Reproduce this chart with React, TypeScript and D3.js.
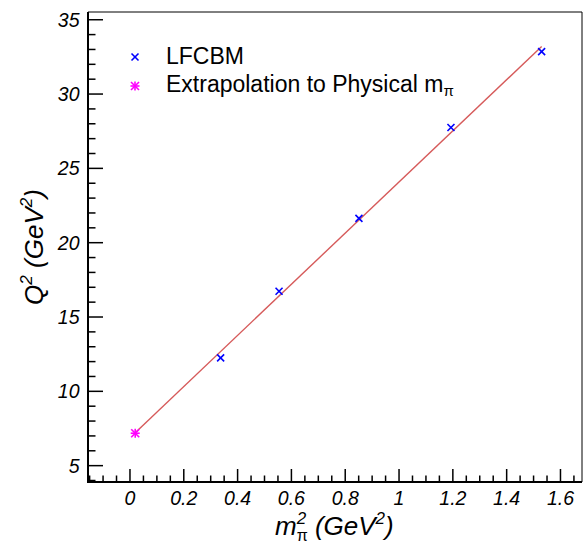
import React from "react";
import * as d3 from "d3";

const mpi2 = [0.337, 0.554, 0.851, 1.193, 1.53];
const q2 = [12.25, 16.73, 21.64, 27.75, 32.85];
const physMpi2 = [0.0195];
const physQ2 = [7.18];
const fitSlope = 17.2;
const fitIntercept = 6.885;
const fitRange = [0.0195, 1.53];
const xTicks = [0, 0.2, 0.4, 0.6, 0.8, 1, 1.2, 1.4, 1.6];
const yTicks = [5, 10, 15, 20, 25, 30, 35];
const legendLabels = ["LFCBM", "Extrapolation to Physical m"];

const W = 588, H = 546;
const L = 88, R = 582, T = 12, B = 482;
const FONT = "'Liberation Sans', Arial, Helvetica, sans-serif";

export default function App() {
  const x = d3.scaleLinear().domain([-0.156, 1.68]).range([L, R]);
  const y = d3.scaleLinear().domain([3.9, 35.52]).range([B, T]);

  const xMinor = d3.range(-0.15, 1.6801, 0.05).filter((v) => x(v) >= L && x(v) <= R);
  const yMinor = d3.range(4, 35.6, 1).filter((v) => y(v) >= T && y(v) <= B);

  const line = d3
    .line<number>()
    .x((d) => x(d))
    .y((d) => y(fitIntercept + fitSlope * d));

  const xMark = (cx: number, cy: number, s: number, col: string, key: string) => (
    <g key={key} stroke={col} strokeWidth={1.6}>
      <line x1={cx - s} y1={cy - s} x2={cx + s} y2={cy + s} />
      <line x1={cx - s} y1={cy + s} x2={cx + s} y2={cy - s} />
    </g>
  );
  const star = (cx: number, cy: number, s: number, col: string, key: string) => (
    <g key={key} stroke={col} strokeWidth={1.6}>
      <line x1={cx - s} y1={cy - s} x2={cx + s} y2={cy + s} />
      <line x1={cx - s} y1={cy + s} x2={cx + s} y2={cy - s} />
      <line x1={cx - s - 0.5} y1={cy} x2={cx + s + 0.5} y2={cy} />
      <line x1={cx} y1={cy - s - 0.5} x2={cx} y2={cy + s + 0.5} />
    </g>
  );

  return (
    <svg width={W} height={H} style={{ position: "absolute", left: 0, top: 0 }} fontFamily={FONT}>
      <rect x={0} y={0} width={W} height={H} fill="#fff" />
      {/* frame */}
      <line x1={L} y1={T} x2={R} y2={T} stroke="#000" strokeWidth={1} />
      <line x1={R} y1={T} x2={R} y2={B} stroke="#000" strokeWidth={1} />
      <line x1={L} y1={T} x2={L} y2={B + 1} stroke="#000" strokeWidth={2} />
      <line x1={L - 1} y1={B} x2={R} y2={B} stroke="#000" strokeWidth={2} />

      {/* x ticks */}
      {xMinor.map((v, i) => {
        const major = xTicks.some((t) => Math.abs(t - v) < 1e-6);
        return (
          <line key={"xm" + i} x1={x(v)} x2={x(v)} y1={B} y2={B - (major ? 13 : 6.5)} stroke="#000" strokeWidth={1.5} />
        );
      })}
      {xTicks.map((t) => (
        <text key={"xt" + t} x={x(t)} y={505} fontSize={19.5} fontStyle="italic" textAnchor="middle">
          {String(t)}
        </text>
      ))}

      {/* y ticks */}
      {yMinor.map((v, i) => {
        const major = yTicks.some((t) => Math.abs(t - v) < 1e-6);
        return (
          <line key={"ym" + i} x1={L} x2={L + (major ? 15 : 7.5)} y1={y(v)} y2={y(v)} stroke="#000" strokeWidth={1.5} />
        );
      })}
      {yTicks.map((t) => (
        <text key={"yt" + t} x={79.5} y={y(t) + 7} fontSize={19.5} fontStyle="italic" textAnchor="end">
          {String(t)}
        </text>
      ))}

      {/* fit line */}
      <path d={line(fitRange) || ""} fill="none" stroke="#d65a5a" strokeWidth={1.4} />

      {/* points */}
      {mpi2.map((v, i) => xMark(x(v), y(q2[i]), 3.5, "#0000ff", "p" + i))}
      {physMpi2.map((v, i) => star(x(v), y(physQ2[i]), 4, "#ff00ff", "s" + i))}

      {/* legend */}
      {xMark(135, 57, 3.5, "#0000ff", "lg1")}
      {star(135, 86, 4, "#ff00ff", "lg2")}
      <text x={166} y={64} fontSize={23}>{legendLabels[0]}</text>
      <text x={166} y={92} fontSize={23}>
        {legendLabels[1]}
        <tspan fontSize={15} dy={4}>π</tspan>
      </text>

      {/* x title */}
      <text x={275} y={535} fontSize={26} fontStyle="italic">
        m
        <tspan fontSize={17} dy={-11}>2</tspan>
        <tspan fontSize={16} dx={-9.5} dy={17} fontStyle="normal">π</tspan>
        <tspan dy={-6}> (GeV</tspan>
        <tspan fontSize={17} dy={-11}>2</tspan>
        <tspan dy={11}>)</tspan>
      </text>

      {/* y title */}
      <text transform={`translate(43,${(T + B) / 2}) rotate(-90)`} fontSize={26} fontStyle="italic" textAnchor="middle">
        Q<tspan fontSize={17} dy={-11}>2</tspan>
        <tspan dy={11}> (GeV</tspan>
        <tspan fontSize={17} dy={-11}>2</tspan>
        <tspan dy={11}>)</tspan>
      </text>
    </svg>
  );
}
